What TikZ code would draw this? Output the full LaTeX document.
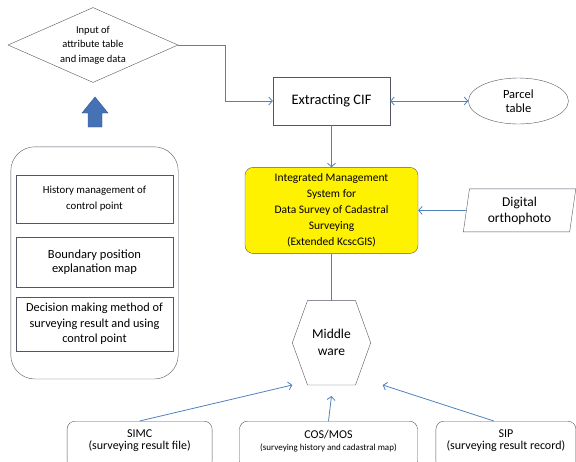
\documentclass[tikz,border=0pt]{standalone}
\usepackage{fontspec}
\setmainfont{Carlito}
\usetikzlibrary{positioning,shapes.geometric,arrows.meta,fit}
\definecolor{linkblue}{RGB}{79,129,189}
\definecolor{edgegray}{RGB}{82,86,100}
\definecolor{arrowfill}{RGB}{68,114,180}
\definecolor{arrowedge}{RGB}{47,82,143}
\tikzset{
  >={Straight Barb[length=3.5pt,width=8pt]},
  box/.style={rectangle, draw=edgegray, align=center, inner sep=1pt,
    font=\fontsize{12}{15}\selectfont},
  link/.style={draw=linkblue, line width=0.8pt},
  srcbox/.style={rectangle, rounded corners=8pt, draw=edgegray, inner sep=0pt,
    font=\fontsize{12}{11.5}\selectfont},
}

\begin{document}
\begin{tikzpicture}[x=1pt, y=-1pt, node distance=40pt]
  \useasboundingbox (0,0) rectangle (576,461);
  % top row
  \node[box, minimum width=117pt, minimum height=48pt,
    font=\fontsize{14.5}{16}\selectfont] (cif) at (331.5,101) {Extracting CIF};
  \node[ellipse, draw=edgegray, align=center, inner sep=0pt,
    minimum width=100pt, minimum height=46pt, font=\fontsize{12.5}{14}\selectfont,
    right=78pt of cif] (parcel) {Parcel\\table};
  \node[diamond, draw=edgegray, aspect=2.27, inner sep=0pt, align=center,
    minimum width=170pt, minimum height=75pt, font=\fontsize{10.5}{14.5}\selectfont]
    (input) at (93,45) {Input of\\attribute table\\and image data};
  % middle
  \node[box, fill=yellow, rounded corners=8pt, minimum width=173pt,
    minimum height=86pt, font=\fontsize{11.5}{16}\selectfont, below=42pt of cif]
    (ims) {Integrated Management\\System for\\Data Survey of Cadastral\\Surveying\\(Extended KcscGIS)};
  \node[trapezium, trapezium left angle=82, trapezium right angle=98,
    trapezium stretches=true, draw=edgegray, align=center, inner sep=0pt,
    minimum width=113pt, minimum height=43pt, font=\fontsize{13.5}{16}\selectfont,
    right=48pt of ims] (ortho) {Digital\\orthophoto};
  \node[align=center, inner sep=0pt, minimum width=78pt, minimum height=84pt,
    font=\fontsize{13.5}{17}\selectfont, below=47pt of ims] (mw) {Middle\\ware};
  \draw[edgegray] ([xshift=-24pt]mw.north) -- ([xshift=24pt]mw.north) -- (mw.east)
    -- ([xshift=24pt]mw.south) -- ([xshift=-24pt]mw.south) -- (mw.west) -- cycle;
  % left panel
  \node[box, minimum width=157pt, minimum height=48pt,
    font=\fontsize{10.8}{16}\selectfont] (hist) at (94.5,199)
    {History management  of\\control point};
  \node[box, minimum width=157pt, minimum height=50pt,
    font=\fontsize{12.5}{13.5}\selectfont, below=14pt of hist] (bound)
    {Boundary position\\explanation map};
  \node[box, minimum width=157pt, minimum height=54pt,
    font=\fontsize{12.3}{15.5}\selectfont, below=9pt of bound] (decide)
    {Decision making method of\\surveying result and using\\control point};
  \node[draw=edgegray, rounded corners=24pt, fit=(hist)(decide),
    inner xsep=5pt, inner ysep=28pt] (tools) {};
  \filldraw[fill=arrowfill, draw=arrowedge] (88,127) -- (88,113) -- (82,113)
    -- (95,97) -- (108,113) -- (102,113) -- (102,127) -- cycle;
  % bottom row
  \node[srcbox, below=36pt of mw, xshift=-3pt] (cos)
    {\parbox[c][48pt][t]{178pt}{\centering\vspace*{9pt}COS/MOS\\
      {\fontsize{9}{11}\selectfont(surveying history and cadastral map)}}};
  \node[srcbox, left=27pt of cos] (simc)
    {\parbox[c][48pt][t]{145pt}{\centering\vspace*{9pt}SIMC\\(surveying result file)}};
  \node[srcbox, right=18pt of cos] (sip)
    {\parbox[c][48pt][t]{140pt}{\centering\vspace*{9pt}SIP\\(surveying result record)}};
  % connectors
  \draw[link, ->] (input.east) -| ([xshift=-47pt]cif.west) -- (cif.west);
  \draw[link, <->] (cif) -- (parcel);
  \draw[link, ->] (cif) -- (ims);
  \draw[link, ->] (ortho) -- (ims);
  \draw[link] (ims) -- (mw);
  \draw[link, ->] (simc.north) -- (mw.south west);
  \draw[link, ->] (cos.north) -- ([yshift=-11pt]mw.south);
  \draw[link, ->] ([xshift=-12pt]sip.north) -- ([xshift=12pt]mw.south east);
\end{tikzpicture}
\end{document}
